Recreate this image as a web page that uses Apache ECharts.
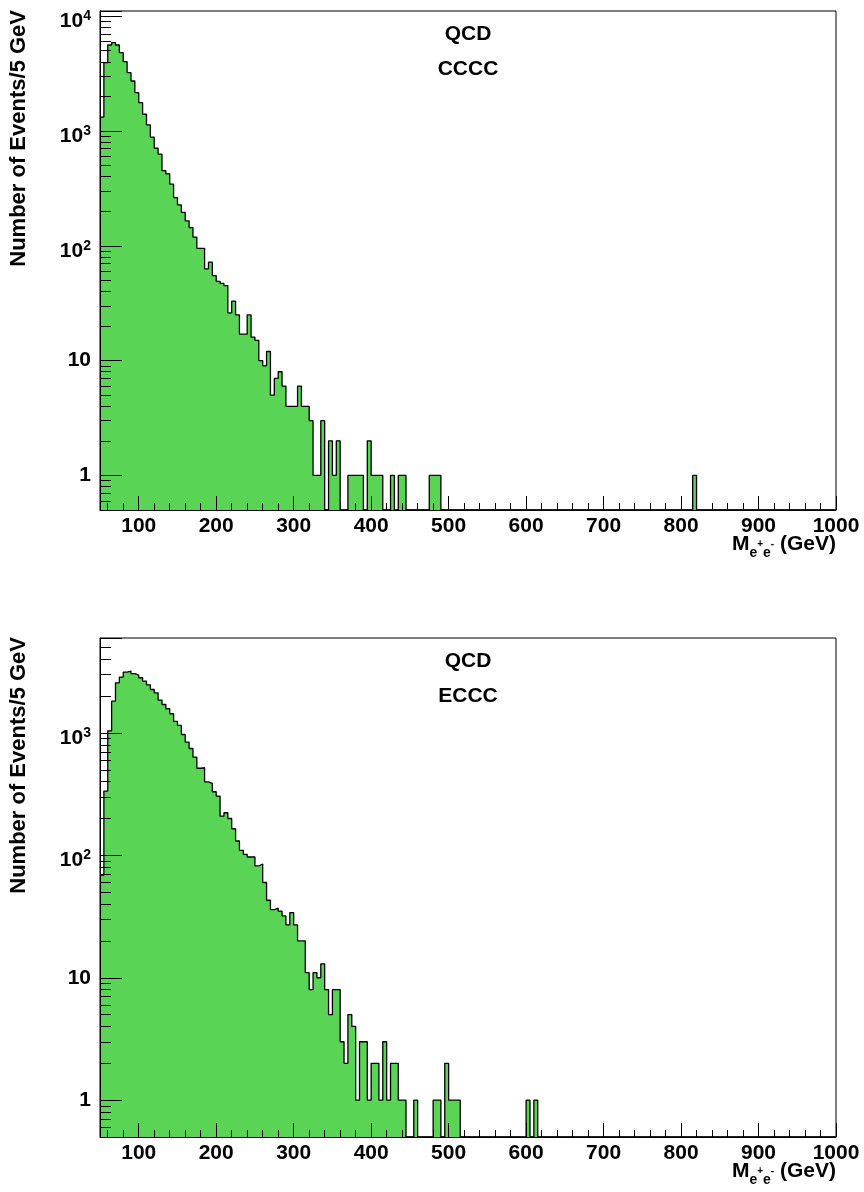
<!DOCTYPE html>
<html><head><meta charset="utf-8">
<script src="https://cdn.jsdelivr.net/npm/echarts@6/dist/echarts.min.js"></script>
<style>html,body{margin:0;padding:0;background:#fff}#c{width:864px;height:1192px}</style>
</head><body><div id="c"></div>
<script>
// ---- data (5 GeV bins starting at 50 GeV) ----
const binLow = 50;
const binWidth = 5;
const countsCCCC = [
  1320,3930,5600,5870,5600,4800,4010,3215,2723,2154,
  1763,1397,1128,882,707,627,451,423,344,263,
  227,195,165,144,119,95,95,63,72,55,
  49,47,45,26,33,25,17,17,25,16,
  15,10,9,12,5,7,8,6,4,4,
  4,6,4,4,3,1,1,3,0,2,
  1,2,0,0,1,1,1,1,0,2,
  1,1,1,0,0,1,0,1,1,0,
  0,0,0,0,0,1,1,1,0,0,
  0,0,0,0,0,0,0,0,0,0,
  0,0,0,0,0,0,0,0,0,0,
  0,0,0,0,0,0,0,0,0,0,
  0,0,0,0,0,0,0,0,0,0,
  0,0,0,0,0,0,0,0,0,0,
  0,0,0,0,0,0,0,0,0,0,
  0,0,0,1,0,0,0,0,0,0,
  0,0,0,0,0,0,0,0,0,0,
  0,0,0,0,0,0,0,0,0,0,
  0,0,0,0,0,0,0,0,0,0
];
const countsECCC = [
  69,335,1042,1820,2570,2860,3140,3200,3050,2970,
  2826,2650,2475,2266,2130,1853,1709,1577,1436,1242,
  1152,972,842,747,634,515,520,399,387,331,
  305,209,223,200,165,131,110,102,97,97,
  82,85,60,43,36,37,35,32,27,34,
  27,20,20,11,8,11,10,13,8,5,
  8,8,3,2,5,4,1,3,3,1,
  2,2,1,3,1,2,2,1,1,0,
  0,1,0,0,0,0,1,1,0,2,
  1,1,1,0,0,0,0,0,0,0,
  0,0,0,0,0,0,0,0,0,0,
  1,0,1,0,0,0,0,0,0,0,
  0,0,0,0,0,0,0,0,0,0,
  0,0,0,0,0,0,0,0,0,0,
  0,0,0,0,0,0,0,0,0,0,
  0,0,0,0,0,0,0,0,0,0,
  0,0,0,0,0,0,0,0,0,0,
  0,0,0,0,0,0,0,0,0,0,
  0,0,0,0,0,0,0,0,0,0
];
const xMajorTicks = [100,200,300,400,500,600,700,800,900,1000];
const xMinorTicks = [60,80,120,140,160,180,220,240,260,280,320,340,360,380,420,440,460,480,
  520,540,560,580,620,640,660,680,720,740,760,780,820,840,860,880,920,940,960,980];
const xMin = 50, xMax = 1000;
const yMin = 0.5;
const yMaxCCCC = 11077;
const yMaxECCC = 5970;
const panelLabels = [['QCD','CCCC'],['QCD','ECCC']];

// ---- build ----
const FONT = 'Liberation Sans';
function histPoints(counts) {
  const pts = counts.map((c, i) => [binLow + i * binWidth, c > 0 ? c : yMin]);
  const last = counts[counts.length - 1];
  pts.push([binLow + counts.length * binWidth, last > 0 ? last : yMin]);
  return pts;
}
function isPow10(v) {
  const e = Math.round(Math.log10(v));
  return Math.abs(v - Math.pow(10, e)) < 1e-6 * v ? e : null;
}
const labelRich = {
  b: {fontFamily: FONT, fontWeight: 'bold', fontSize: 21, lineHeight: 21, color: '#000'},
  b2: {fontFamily: FONT, fontWeight: 'bold', fontSize: 21, lineHeight: 21, verticalAlign: 'bottom', color: '#000'},
  p: {fontFamily: FONT, fontWeight: 'bold', fontSize: 14, lineHeight: 31, verticalAlign: 'middle', color: '#000'}
};
function yLabel(v) {
  const e = isPow10(v);
  if (e === null) return '';
  if (e === 0) return '{b|1}';
  if (e === 1) return '{b|10}';
  return '{b2|10}{p|' + e + '}';
}
const grids = [
  {left: 100, top: 11, width: 736, height: 499},
  {left: 100, top: 638, width: 736, height: 499}
];
const xAxes = [], yAxes = [], series = [], graphics = [];
[countsCCCC, countsECCC].forEach((counts, g) => {
  xAxes.push({
    gridIndex: g, type: 'value', min: xMin, max: xMax, position: 'bottom', z: 5,
    axisLine: {show: true, onZero: false, lineStyle: {color: '#000', width: 1}},
    axisTick: {show: true, inside: true, length: 14, customValues: xMajorTicks, lineStyle: {color: '#000', width: 1}},
    axisLabel: {customValues: xMajorTicks, formatter: v => String(v), margin: 6, color: '#000', fontFamily: FONT, fontWeight: 'bold', fontSize: 21},
    splitLine: {show: false}
  });
  xAxes.push({
    gridIndex: g, type: 'value', min: xMin, max: xMax, position: 'bottom', z: 5,
    axisLine: {show: false, onZero: false},
    axisTick: {show: true, inside: true, length: 7, customValues: xMinorTicks, lineStyle: {color: '#000', width: 1}},
    axisLabel: {show: false},
    splitLine: {show: false}
  });
  yAxes.push({
    gridIndex: g, type: 'log', logBase: 10, min: yMin, max: g === 0 ? yMaxCCCC : yMaxECCC, z: 5,
    axisLine: {show: true, lineStyle: {color: '#000', width: 1}},
    axisTick: {show: true, inside: true, length: 22, lineStyle: {color: '#000', width: 1}},
    minorTick: {show: true, splitNumber: 9, length: 11, lineStyle: {color: '#000', width: 1}},
    axisLabel: {formatter: yLabel, rich: labelRich, margin: 9, showMinLabel: false, showMaxLabel: false},
    splitLine: {show: false}, minorSplitLine: {show: false}
  });
  series.push({
    type: 'line', xAxisIndex: 2 * g, yAxisIndex: g, data: histPoints(counts),
    step: 'end', symbol: 'none', showSymbol: false, z: 2,
    lineStyle: {color: '#000', width: 1.3},
    areaStyle: {color: '#59d454', opacity: 1, origin: 'start'}
  });
  const top = grids[g].top;
  const bottom = top + grids[g].height;
  const cx = grids[g].left + grids[g].width / 2;
  graphics.push({type: 'text', x: cx, y: top + 23, z: 10,
    style: {text: panelLabels[g][0], align: 'center', verticalAlign: 'middle', fill: '#000', font: 'bold 21px "' + FONT + '"'}});
  graphics.push({type: 'text', x: cx, y: top + 58, z: 10,
    style: {text: panelLabels[g][1], align: 'center', verticalAlign: 'middle', fill: '#000', font: 'bold 21px "' + FONT + '"'}});
  graphics.push({type: 'text', x: 19, y: top - 1, rotation: Math.PI / 2, z: 10,
    style: {text: 'Number of Events/5 GeV', align: 'right', verticalAlign: 'middle', fill: '#000', font: 'bold 22px "' + FONT + '"'}});
  graphics.push({type: 'text', x: grids[g].left + grids[g].width, y: bottom + 34.5, z: 10,
    style: {
      text: '{m|M}{s|e}{p|+}{s|e}{p|-}{m| (GeV)}', align: 'right', verticalAlign: 'middle',
      rich: {
        m: {fontFamily: FONT, fontWeight: 'bold', fontSize: 21, lineHeight: 32, fill: '#000'},
        s: {fontFamily: FONT, fontWeight: 'bold', fontSize: 14, lineHeight: 14, verticalAlign: 'bottom', fill: '#000'},
        p: {fontFamily: FONT, fontWeight: 'bold', fontSize: 10, lineHeight: 10, fill: '#000'}
      }
    }});
});
grids.forEach(gr => { gr.show = true; gr.borderColor = '#000'; gr.borderWidth = 1; gr.backgroundColor = 'transparent'; gr.containLabel = false; });

const chart = echarts.init(document.getElementById('c'), null, {renderer: 'canvas'});
chart.setOption({
  animation: false,
  backgroundColor: '#fff',
  grid: grids,
  xAxis: xAxes,
  yAxis: yAxes,
  series: series,
  graphic: {elements: graphics}
});
</script>
</body></html>
